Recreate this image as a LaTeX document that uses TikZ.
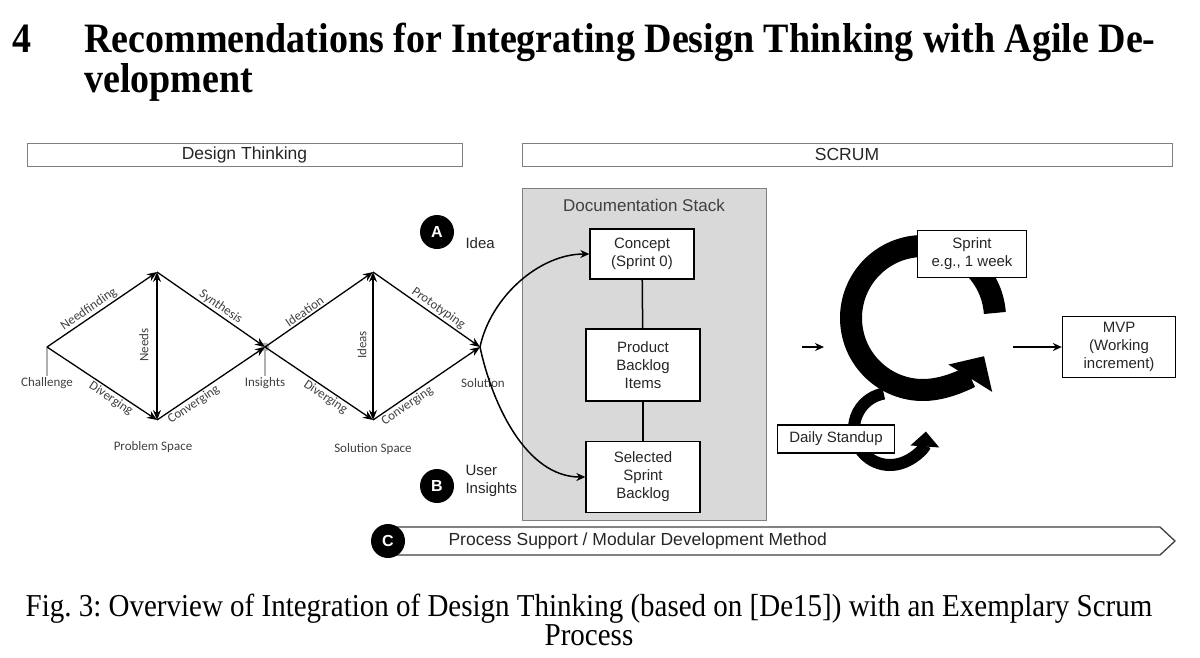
\documentclass[tikz,border=0pt]{standalone}
\usepackage{fontspec}
\setmainfont{Liberation Serif}
\setsansfont{Liberation Sans}
\newfontfamily\calib{Carlito}
\usepackage{xcolor}
\usepackage{tikz}
\usetikzlibrary{arrows.meta,positioning,calc}
\frenchspacing
\definecolor{ink}{HTML}{262626}
\definecolor{dtink}{HTML}{404040}
\definecolor{frame}{HTML}{7F7F7F}
\definecolor{stackbg}{HTML}{D9D9D9}
\definecolor{tickc}{HTML}{B0B0B0}
\tikzset{
  hdrbox/.style={draw=frame, line width=1pt, inner sep=0pt, text=ink, font=\sffamily\fontsize{17.5}{19}\selectfont},
  docbox/.style={draw=black, line width=1.3pt, fill=white, align=center, inner sep=0pt, text=ink, font=\sffamily\fontsize{15}{18}\selectfont},
  dtlab/.style={text=dtink, inner sep=1.5pt, font=\calib\fontsize{13}{15}\selectfont},
  dtline/.style={draw=black, line width=1.3pt, -{Stealth[length=10pt,width=8pt]}},
  flow/.style={draw=black, line width=1.5pt, -{Stealth[length=9pt,width=8pt]}},
  tickline/.style={draw=tickc, line width=1.6pt},
  badge/.style={circle, fill=black, text=white, minimum size=34pt, inner sep=0pt, font=\sffamily\bfseries\fontsize{16}{16}\selectfont},
  sidelab/.style={text=ink, align=left, font=\sffamily\fontsize{15}{18}\selectfont},
}

\begin{document}
\begin{tikzpicture}[x=1pt, y=-1pt]
\useasboundingbox (0,0) rectangle (1200,657);

% heading and caption
\node[anchor=base west, inner sep=0pt, font=\fontsize{38}{40}\bfseries] (secno) at (12,52) {\scalebox{1}[1.1]{4}};
\node[anchor=base west, inner sep=0pt, font=\fontsize{38}{40}\bfseries] (title) at (84,52) {\scalebox{1}[1.1]{Recommendations for Integrating Design Thinking with Agile De-}};
\node[anchor=base west, inner sep=0pt, font=\fontsize{38}{40}\bfseries] (title2) at (84,92) {\scalebox{1}[1.1]{velopment}};
\node[anchor=base, inner sep=0pt, font=\fontsize{29}{32}\selectfont] (cap1) at (589,616) {\scalebox{1}[1.1]{Fig. 3: Overview of Integration of Design Thinking (based on [De15]) with an Exemplary Scrum}};
\node[anchor=base, inner sep=0pt, font=\fontsize{29}{32}\selectfont] (cap2) at (589,645) {\scalebox{1}[1.1]{Process}};

% phase headers
\node[hdrbox, minimum width=435pt, minimum height=23pt] (dthdr) at (244.5,154.5) {Design Thinking};
\node[hdrbox, minimum width=650pt, minimum height=23pt] (scrumhdr) at (847,154.5) {SCRUM};

% double diamond
\coordinate (chal) at (47,347);
\coordinate (ptop) at (157,272);
\coordinate (pbot) at (157,420);
\coordinate (ins) at (265,347);
\coordinate (stop) at (373,272);
\coordinate (sbot) at (373,420);
\coordinate (sol) at (480,347);

\node[dtlab] (challab) at (47,383) {Challenge};
\node[dtlab] (inslab) at (265,383) {Insights};
\node[dtlab] (sollab) at (483,383) {Solution};
\node[dtlab] (pspace) at (153,447) {Problem Space};
\node[dtlab] (sspace) at (373,449) {Solution Space};
\draw[tickline] (chal) -- (challab.north);
\draw[tickline] (ins) -- (inslab.north);
\fill[tickc] (ins) circle[radius=4.5];

\draw[dtline] (chal) -- node[dtlab, sloped, above, pos=0.42] {Needfinding} (ptop);
\draw[dtline] (chal) -- node[dtlab, sloped, below, pos=0.62] {Diverging} (pbot);
\draw[dtline] (ptop) -- node[dtlab, sloped, above, pos=0.55] {Synthesis} (ins);
\draw[dtline] (pbot) -- node[dtlab, sloped, below, pos=0.3] {Converging} (ins);
\draw[dtline, {Stealth[length=10pt,width=8pt]}-{Stealth[length=10pt,width=8pt]}] (ptop) -- (pbot);
\node[dtlab, rotate=90] (needs) at (144,345) {Needs};

\draw[dtline] (ins) -- node[dtlab, sloped, above, pos=0.4] {Ideation} (stop);
\draw[dtline] (ins) -- node[dtlab, sloped, below, pos=0.6] {Diverging} (sbot);
\draw[dtline] (stop) -- node[dtlab, sloped, above, pos=0.57] {Prototyping} (sol);
\draw[dtline] (sbot) -- node[dtlab, sloped, below, pos=0.28] {Converging} (sol);
\draw[dtline, {Stealth[length=10pt,width=8pt]}-{Stealth[length=10pt,width=8pt]}] (stop) -- (sbot);
\node[dtlab, rotate=90] (ideas) at (362,345) {Ideas};

% documentation stack
\node[fill=stackbg, draw=frame, line width=1pt, minimum width=244pt, minimum height=332pt, inner sep=0pt] (stack) at (644,354) {};
\node[text=dtink, font=\sffamily\fontsize{17}{19}\selectfont] (stacktitle) at (644,205) {Documentation Stack};
\node[docbox, minimum width=104pt, minimum height=50pt] (concept) at (642,254) {Concept\\(Sprint 0)};
\node[docbox, minimum width=114pt, minimum height=72pt] (pbi) at (643,365) {Product\\Backlog\\Items};
\node[docbox, minimum width=114pt, minimum height=71pt] (ssb) at (643,477) {Selected\\Sprint\\Backlog};
\draw[line width=1.5pt] (concept) -- (pbi);
\draw[line width=1.5pt] (pbi) -- (ssb);

\draw[flow] (sol) to[out=78, in=180, looseness=0.9] (concept.west);
\draw[flow] (sol) to[out=-78, in=180, looseness=0.9] (ssb.west);

\node[badge] (ba) at (437,232) {A};
\node[sidelab, anchor=west] (idea) at (462,243) {Idea};
\node[badge] (bb) at (437,486) {B};
\node[sidelab, anchor=west] (userins) at (462,481) {User\\Insights};

% sprint cycle
\coordinate (cyc) at (923,318);
\coordinate (daycyc) at (890,429);
\draw[line width=12pt, -{Triangle[length=15pt,width=28pt]}] ([shift={(-100:36)}]daycyc) arc[start angle=-100, end angle=-356, radius=36];
\draw[line width=22pt, -{Triangle[length=26pt,width=50pt]}] ([shift={(-4:72)}]cyc) arc[start angle=-4, end angle=-328, radius=72];
\node[docbox, minimum width=109pt, minimum height=47pt] (sprint) at (972,254) {Sprint\\e.g., 1 week};
\node[docbox, minimum width=117pt, minimum height=28pt] (daily) at (836,439) {Daily Standup};
\node[docbox, minimum width=113pt, minimum height=61pt] (mvp) at (1119,347) {MVP\\(Working\\increment)};
\coordinate (cin) at (802,347);
\coordinate (cinend) at (824,347);
\coordinate (cout) at (1013,347);
\draw[flow] (cin) -- (cinend);
\draw[flow] (cout) -- (mvp.west);

% process support band
\draw[draw=dtink, line width=1.3pt, fill=white] (392,527) -- (1160,527) -- (1175,541) -- (1160,555) -- (392,555) -- cycle;
\node[badge] (bc) at (388,541) {C};
\node[sidelab, anchor=west, font=\sffamily\fontsize{17.5}{19}\selectfont] (proc) at (445,541) {Process Support / Modular Development Method};
\end{tikzpicture}
\end{document}
